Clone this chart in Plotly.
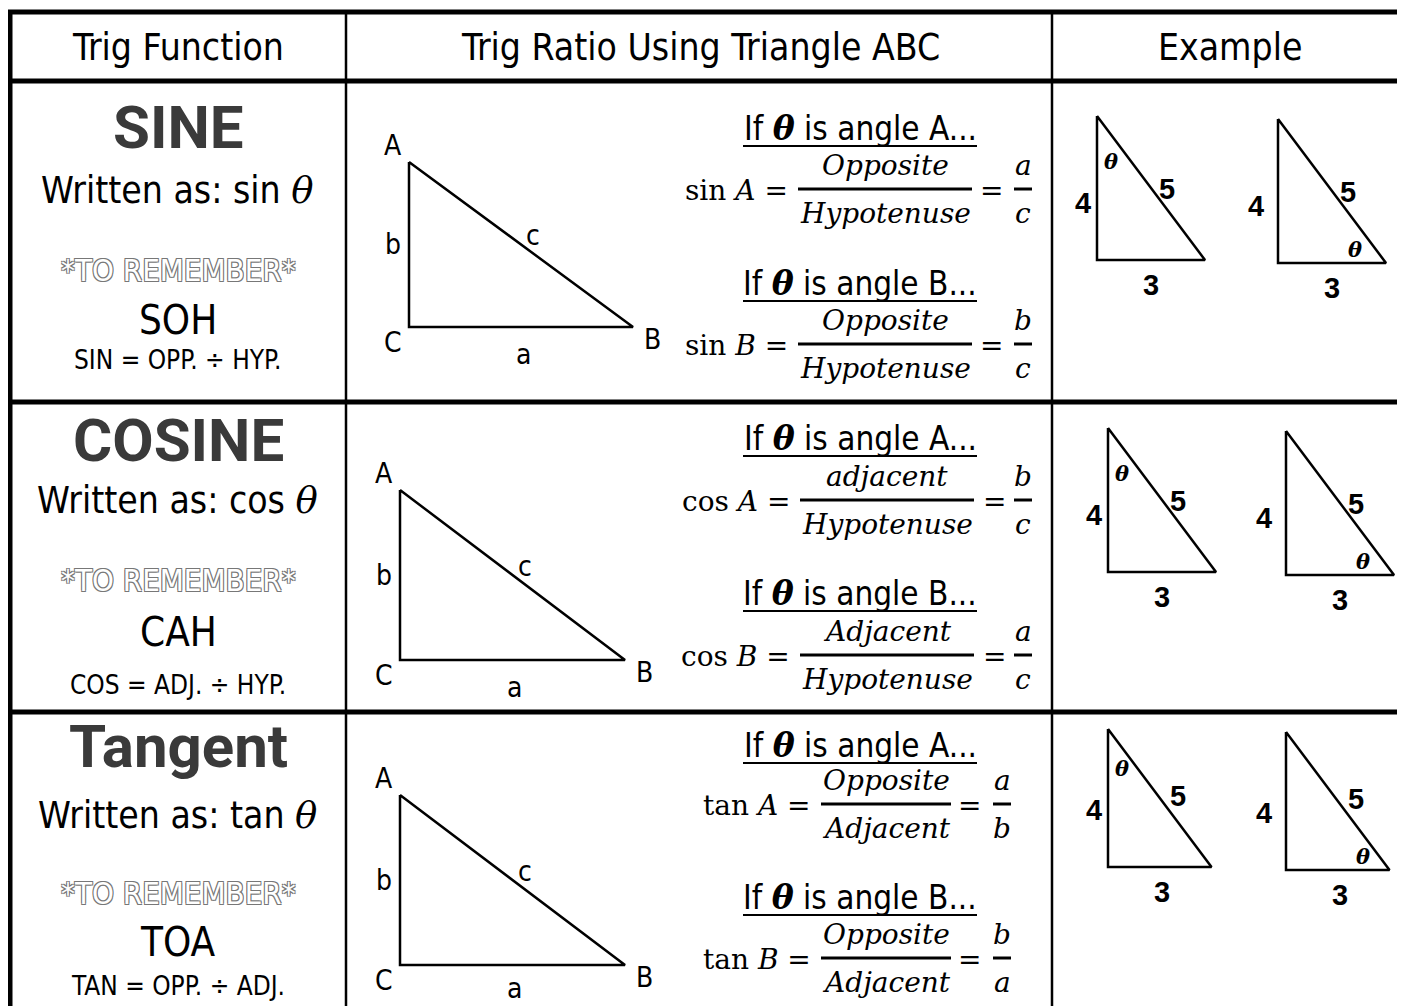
import plotly.graph_objects as go

# ---- content ----
headers = ["Trig Function", "Trig Ratio Using Triangle ABC", "Example"]
func_names = ["SINE", "COSINE", "Tangent"]
func_abbr = ["sin", "cos", "tan"]
mnemonics = ["SOH", "CAH", "TOA"]
mnemonic_rules = ["SIN = OPP. ÷ HYP.", "COS = ADJ. ÷ HYP.", "TAN = OPP. ÷ ADJ."]
num_A = ["Opposite", "adjacent", "Opposite"]
den_A = ["Hypotenuse", "Hypotenuse", "Adjacent"]
num_B = ["Opposite", "Adjacent", "Opposite"]
den_B = ["Hypotenuse", "Hypotenuse", "Adjacent"]
side_num_A = ["a", "b", "a"]
side_den_A = ["c", "c", "b"]
side_num_B = ["b", "a", "b"]
side_den_B = ["c", "c", "a"]
vertex_labels = ["A", "B", "C"]
side_labels = ["a", "b", "c"]
example_base = 3
example_height = 4
example_hyp = 5

# ---- page layout (pixels) ----
W, H = 1405, 1006
OFF = 8  # page body margin, so axis units line up with page pixels
NARROW = "Liberation Sans Narrow, DejaVu Sans Condensed, Arial Narrow, sans-serif"
SERIF = "DejaVu Serif, Liberation Serif, serif"
BOLD = "Roboto, Liberation Sans, sans-serif"
ARIAL = "Liberation Sans, Arial, sans-serif"

name_y = [127, 440, 746]
written_y = [190, 500, 815]
remember_y = [270, 580, 893]
mnem_y = [320, 632, 942]
rule_y = [360, 685, 986]

ifA_y = [128, 438, 745]
ifB_y = [283, 593, 897]
fracA_y = [189, 500, 804]
fracB_y = [344, 655, 958]
frac_x0 = [798, 800, 821]
frac_x1 = [972, 974, 951]
eq_x = [991, 994, 969]
side_x = [1023, 1023, 1002]

abc_C = [(409, 327), (400, 660), (400, 965)]
abc_h = [165, 170, 170]
abc_w = [224, 225, 225]
a_label_dy = [27, 27, 23]

ex_left = [(1097, 260), (1108, 572), (1108, 867)]
ex_right = [(1278, 263), (1286, 575), (1286, 870)]
ex_unit = [36, 36, 34.5]

fig = go.Figure()
ann = []
shapes = []


def txt(x, y, s, size, family=NARROW, color="black", **kw):
    ann.append(dict(x=x, y=y, text=s, showarrow=False, xanchor=kw.pop("xanchor", "center"),
                    yanchor="middle", font=dict(size=size, family=family, color=color, **kw)))


def hline(x0, x1, y, w):
    shapes.append(dict(type="line", x0=x0, x1=x1, y0=y, y1=y, line=dict(color="black", width=w)))


def vline(x, y0, y1, w):
    shapes.append(dict(type="line", x0=x, x1=x, y0=y0, y1=y1, line=dict(color="black", width=w)))


# table grid
hline(8, W + OFF, 12, 5)
vline(10, 10, H + OFF, 5)
hline(8, W + OFF, 81, 5)
hline(8, W + OFF, 402, 5)
hline(8, W + OFF, 712, 5)
vline(346, 12, H + OFF, 2.5)
vline(1052, 12, H + OFF, 2.5)

# headers
for x, s in zip([178, 700, 1230], headers):
    txt(x, 47, s, 37)

theta_b = '<span style="font-family:DejaVu Serif"><b><i>θ</i></b></span>'
theta = '<span style="font-family:DejaVu Serif"><i>θ</i></span>'
outline = "1px 1px 0 #777, -1px -1px 0 #777, 1px -1px 0 #777, -1px 1px 0 #777"

for i in range(3):
    # left column
    txt(178, name_y[i], "<b>" + func_names[i] + "</b>", 60, BOLD, "#3a3a3a")
    txt(177, written_y[i], "Written as: " + func_abbr[i] + " " + theta, 37)
    txt(178, remember_y[i], "*TO REMEMBER*", 31, color="white", shadow=outline)
    txt(178, mnem_y[i], mnemonics[i], 40)
    txt(178, rule_y[i], mnemonic_rules[i], 26)

    # middle column: ABC triangle
    cx, cy = abc_C[i]
    ax, ay = cx, cy - abc_h[i]
    bx, by = cx + abc_w[i], cy
    fig.add_trace(go.Scatter(x=[ax, cx, bx, ax], y=[ay, cy, by, ay], mode="lines",
                             line=dict(color="black", width=2.5), hoverinfo="skip"))
    txt(cx - 16, ay - 17, vertex_labels[0], 28)
    txt(bx + 19, by + 12, vertex_labels[1], 28)
    txt(cx - 16, cy + 15, vertex_labels[2], 28)
    txt((cx + bx) / 2 + 2, cy + a_label_dy[i], side_labels[0], 28)
    txt(cx - 16, (ay + cy) / 2, side_labels[1], 28)
    txt((ax + bx) / 2 + 12, (ay + by) / 2 - 9, side_labels[2], 28)

    # middle column: ratios
    for ty, fy, ang, num, den, sn, sd in [
        (ifA_y[i], fracA_y[i], "A", num_A[i], den_A[i], side_num_A[i], side_den_A[i]),
        (ifB_y[i], fracB_y[i], "B", num_B[i], den_B[i], side_num_B[i], side_den_B[i]),
    ]:
        txt(860, ty, "If " + theta_b + " is angle " + ang + "...", 33)
        hline(743, 977, ty + 18, 2)
        txt(frac_x0[i] - 8, fy + 1, func_abbr[i] + " <i>" + ang + "</i> =", 28, SERIF, xanchor="right")
        hline(frac_x0[i], frac_x1[i], fy, 3)
        mid = (frac_x0[i] + frac_x1[i]) / 2
        txt(mid, fy - 24, "<i>" + num + "</i>", 28, SERIF)
        txt(mid, fy + 24, "<i>" + den + "</i>", 28, SERIF)
        txt(eq_x[i], fy + 1, "=", 28, SERIF)
        hline(side_x[i] - 9, side_x[i] + 9, fy, 3)
        txt(side_x[i], fy - 24, "<i>" + sn + "</i>", 28, SERIF)
        txt(side_x[i], fy + 24, "<i>" + sd + "</i>", 28, SERIF)

    # right column: 3-4-5 example triangles
    u = ex_unit[i]
    for (bx0, by0), theta_top in [(ex_left[i], True), (ex_right[i], False)]:
        tx = [bx0, bx0, bx0 + example_base * u, bx0]
        ty = [by0 - example_height * u, by0, by0, by0 - example_height * u]
        fig.add_trace(go.Scatter(x=tx, y=ty, mode="lines",
                                 line=dict(color="black", width=2.5), hoverinfo="skip"))
        dx = -14 if theta_top else -22
        txt(bx0 + dx, by0 - 57, "<b>%d</b>" % example_height, 29, ARIAL)
        txt(bx0 + 70, by0 - 71, "<b>%d</b>" % example_hyp, 29, ARIAL)
        txt(bx0 + 54, by0 + 25, "<b>%d</b>" % example_base, 29, ARIAL)
        if theta_top:
            txt(bx0 + 14, by0 - 99, "<b><i>θ</i></b>", 21, SERIF)
        else:
            txt(bx0 + 77, by0 - 14, "<b><i>θ</i></b>", 21, SERIF)

fig.update_layout(
    width=W, height=H,
    margin=dict(l=0, r=0, t=0, b=0),
    paper_bgcolor="white", plot_bgcolor="white",
    showlegend=False,
    xaxis=dict(range=[OFF, W + OFF], visible=False, fixedrange=True),
    yaxis=dict(range=[H + OFF, OFF], visible=False, fixedrange=True),
    annotations=ann, shapes=shapes,
)

fig.write_html("out.html")
